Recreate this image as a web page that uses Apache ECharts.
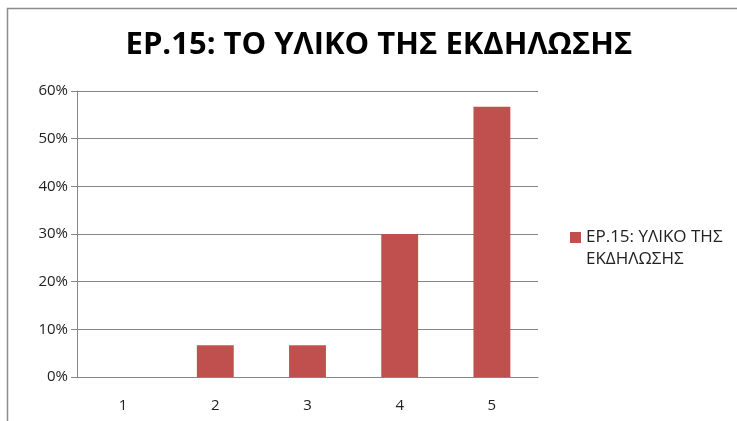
<!DOCTYPE html>
<html lang="el">

<head>
    <meta charset="UTF-8">
    <title>ΕΡ.15</title>
    <script src="https://cdn.jsdelivr.net/npm/echarts@6/dist/echarts.min.js"></script>
    <style>
        html, body { margin: 0; padding: 0; background: #fff; }
        #chart { width: 737px; height: 421px; }
    </style>
</head>

<body>
    <div id="chart"></div>
    <script>
        // δεδομένα
        const categories = ['1', '2', '3', '4', '5'];
        const percentValues = [0, 6.67, 6.67, 30, 56.67];
        const seriesName = 'ΕΡ.15: ΥΛΙΚΟ ΤΗΣ\nΕΚΔΗΛΩΣΗΣ';
        const chartTitle = 'ΕΡ.15: ΤΟ ΥΛΙΚΟ ΤΗΣ ΕΚΔΗΛΩΣΗΣ';

        let myChart = echarts.init(document.getElementById('chart'));

        let option = {
            animation: false,
            backgroundColor: '#fff',
            textStyle: { fontFamily: 'Open Sans' },
            // πλαίσιο γύρω από το διάγραμμα
            graphic: [{
                type: 'rect',
                shape: { x: 7.5, y: 8.5, width: 900, height: 600 },
                style: { fill: 'none', stroke: '#8c8c8c', lineWidth: 1.5 },
                silent: true
            }],
            title: {
                text: chartTitle,
                left: 374,
                top: 25,
                textAlign: 'center',
                textStyle: {
                    fontFamily: 'Open Sans',
                    fontSize: 31,
                    fontWeight: 'bold',
                    color: '#000'
                }
            },
            legend: {
                left: 565,
                top: 221,
                orient: 'vertical',
                itemWidth: 11,
                itemHeight: 32,
                itemGap: 4,
                // τετράγωνο στην πρώτη γραμμή (μικρό σημείο κάτω για το ύψος)
                icon: 'path://M0,0h11v11h-11z M0,32h0.01v0.01h-0.01z',
                textStyle: { fontSize: 17, color: '#222', lineHeight: 22 }
            },
            grid: {
                left: 77,
                right: 199,
                top: 91,
                bottom: 44
            },
            xAxis: {
                type: 'category',
                data: categories,
                axisLine: { lineStyle: { color: '#868686' } },
                axisTick: { length: 6, lineStyle: { color: '#868686' } },
                axisLabel: { color: '#222', fontSize: 15, margin: 21 }
            },
            yAxis: {
                type: 'value',
                min: 0,
                max: 60,
                interval: 10,
                axisLine: { show: true, lineStyle: { color: '#868686' } },
                axisTick: { show: true, length: 6, lineStyle: { color: '#868686' } },
                axisLabel: { color: '#222', fontSize: 15, margin: 9, formatter: '{value}%' },
                splitLine: { lineStyle: { color: '#868686' } }
            },
            series: [{
                name: seriesName,
                type: 'bar',
                data: percentValues,
                barCategoryGap: '60%',
                itemStyle: { color: '#C0504D' }
            }]
        };

        myChart.setOption(option);
    </script>
</body>

</html>
